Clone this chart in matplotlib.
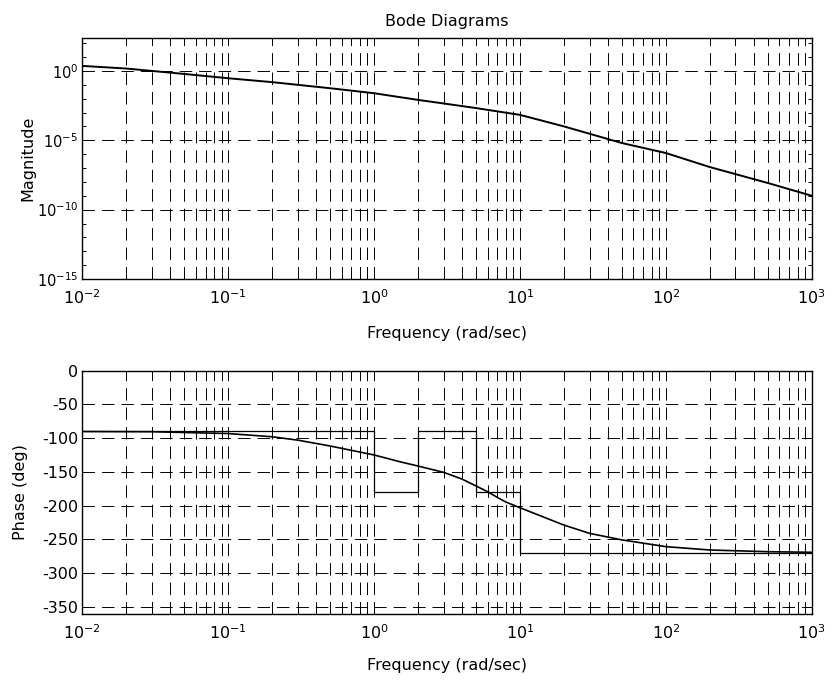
import numpy as np
import matplotlib.pyplot as plt
from matplotlib.ticker import FixedLocator, NullFormatter

plt.rcParams['font.family'] = 'DejaVu Sans'
plt.rcParams['axes.unicode_minus'] = False
plt.rcParams['mathtext.default'] = 'regular'
plt.rcParams['lines.scale_dashes'] = False

# frequency response read at a set of frequencies (rad/sec)
w_mag = [0.01, 0.02, 0.05, 0.1, 0.2, 0.5, 1, 2, 2.87, 5, 10, 20, 50, 100, 200, 500, 1000]
log_mag = [0.36, 0.17, -0.22, -0.53, -0.81, -1.25, -1.61, -2.09, -2.32, -2.68,
           -3.17, -4.0, -5.2, -5.92, -6.93, -8.08, -9.0]

w_ph = [0.01, 0.03, 0.1, 0.2, 0.3, 0.5, 1, 1.5, 2, 3, 4, 5, 6, 7, 8, 10,
        20, 30, 50, 100, 200, 500, 1000]
phase = [-90.2, -90.5, -93.2, -98, -103, -111.7, -125, -135, -141.4, -150.8,
         -160.7, -171, -179.5, -188, -194.8, -203.3, -229, -241.3, -251,
         -261, -266, -268.5, -269.4]

# piecewise phase approximation
w_step = [0.01, 1, 2, 5, 10, 1000]
phase_step = [-90, -180, -90, -180, -270]

fig = plt.figure(figsize=(8.34, 6.85), dpi=100)
ax1 = fig.add_axes([0.0987, 0.5927, 0.8746, 0.3514])
ax2 = fig.add_axes([0.0987, 0.1036, 0.8746, 0.3552])

grid_kw = dict(color='black', linestyle=(0, (9, 5)), linewidth=0.7)

for ax in (ax1, ax2):
    ax.set_xscale('log')
    ax.set_xlim(1e-2, 1e3)
    ax.set_xticks([1e-2, 1e-1, 1e0, 1e1, 1e2, 1e3])
    ax.tick_params(which='both', direction='in', top=True, right=True,
                   labelsize=11.5, width=0.7)
    ax.tick_params(which='major', length=4)
    ax.tick_params(axis='x', which='major', pad=7)
    ax.tick_params(axis='y', which='major', pad=3)
    ax.tick_params(which='minor', length=3)
    for s in ax.spines.values():
        s.set_linewidth(1.0)
    ax.grid(True, which='both', axis='x', **grid_kw)
    ax.grid(True, which='major', axis='y', **grid_kw)
    ax.set_xlabel('Frequency (rad/sec)', fontsize=11.5)

# magnitude
ax1.set_yscale('log')
ax1.plot(w_mag, 10.0 ** np.array(log_mag), color='black', linewidth=1.4)
ax1.set_ylim(1e-15, 10 ** 2.35)
ax1.set_yticks([1e-15, 1e-10, 1e-5, 1e0])
ax1.yaxis.set_minor_locator(FixedLocator(10.0 ** np.arange(-15, 3)))
ax1.yaxis.set_minor_formatter(NullFormatter())
ax1.tick_params(axis='y', labelsize=10.5)
ax1.set_ylabel('Magnitude', fontsize=11.5)
ax1.set_title('Bode Diagrams', fontsize=11.5, pad=9)
ax1.xaxis.set_label_coords(0.5, -0.195)
ax1.yaxis.set_label_coords(-0.064, 0.5)

# phase
ax2.plot(w_ph, phase, color='black', linewidth=1.2)
ax2.step(w_step, phase_step + [phase_step[-1]], where='post',
         color='black', linewidth=0.9)
ax2.set_ylim(-361, 0)
ax2.set_yticks(np.arange(-350, 1, 50))
ax2.set_ylabel('Phase (deg)', fontsize=11.5)
ax2.xaxis.set_label_coords(0.5, -0.181)
ax2.yaxis.set_label_coords(-0.074, 0.5)

fig.savefig('out.png', dpi=100)
